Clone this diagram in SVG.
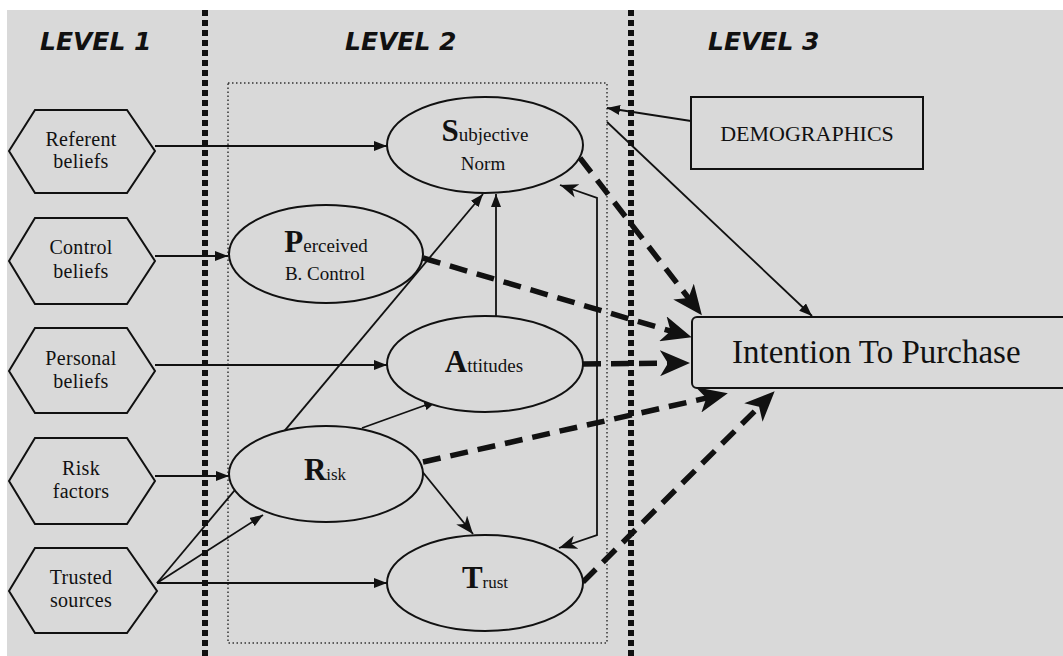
<svg xmlns="http://www.w3.org/2000/svg" width="1063" height="656" viewBox="0 0 1063 656">
<style>
.lvl{font-family:"DejaVu Sans",Verdana,sans-serif;font-weight:bold;font-style:italic;font-size:25px;fill:#111}
.hex{fill:#d9d9d9;stroke:#111;stroke-width:2}
.ht{font-family:"Liberation Serif","Times New Roman",serif;font-size:20px;letter-spacing:0.3px;fill:#111;text-anchor:middle}
.ell{fill:#d9d9d9;stroke:#111;stroke-width:2}
.et{font-family:"Liberation Serif","Times New Roman",serif;font-size:19px;fill:#111;text-anchor:middle}
.big{font-size:31px;font-weight:bold}
.sm{font-size:17px}
.thin{fill:none;stroke:#111;stroke-width:1.8}
.dash{fill:none;stroke:#111;stroke-width:5.5;stroke-dasharray:18 10}
.div{stroke:#111;stroke-width:6;stroke-dasharray:6 4}
</style>
<defs>
<marker id="tri" markerUnits="userSpaceOnUse" viewBox="0 0 13 10" refX="13" refY="5" markerWidth="13" markerHeight="10" orient="auto">
<path d="M0,0 L13,5 L0,10 z" fill="#111"/>
</marker>
<marker id="notch" markerUnits="userSpaceOnUse" viewBox="0 0 18 14" refX="18" refY="7" markerWidth="18" markerHeight="14" orient="auto-start-reverse">
<path d="M0,0 L18,7 L0,14 L5,7 z" fill="#111"/>
</marker>
<marker id="bigarrow" markerUnits="userSpaceOnUse" viewBox="0 0 30 26" refX="22" refY="13" markerWidth="30" markerHeight="26" orient="auto">
<path d="M0,0 L30,13 L0,26 L8,13 z" fill="#111"/>
</marker>
</defs>
<rect x="0" y="0" width="1063" height="656" fill="#ffffff"/>
<rect x="7" y="10" width="1056" height="646" fill="#d9d9d9"/>
<g id="dividers">
<line class="div" x1="205" y1="10" x2="205" y2="656"/>
<line class="div" x1="631" y1="10" x2="631" y2="656"/>
<rect x="228" y="83" width="379" height="560" fill="none" stroke="#333" stroke-width="1.5" stroke-dasharray="1.5 2.5"/>
</g>
<g id="levels">
<text class="lvl" x="40" y="50">LEVEL 1</text>
<text class="lvl" x="345" y="50">LEVEL 2</text>
<text class="lvl" x="708" y="50">LEVEL 3</text>
</g>
<g id="connectors">
<line class="thin" x1="155" y1="146" x2="387" y2="146" marker-end="url(#tri)"/>
<line class="thin" x1="155" y1="256" x2="228" y2="256" marker-end="url(#tri)"/>
<line class="thin" x1="155" y1="365" x2="387" y2="365" marker-end="url(#tri)"/>
<line class="thin" x1="155" y1="476" x2="229" y2="476" marker-end="url(#tri)"/>
<line class="thin" x1="157" y1="583" x2="387" y2="583" marker-end="url(#tri)"/>
<line class="thin" x1="157" y1="583" x2="263" y2="515" marker-end="url(#tri)"/>
<line class="thin" x1="157" y1="583" x2="483" y2="194" marker-end="url(#tri)"/>
<line class="thin" x1="496" y1="316" x2="496" y2="194" marker-end="url(#tri)"/>
<line class="thin" x1="362" y1="428" x2="437" y2="401" marker-end="url(#tri)"/>
<line class="thin" x1="421" y1="470" x2="473" y2="534" marker-end="url(#notch)"/>
<path class="thin" d="M560,185 L597,198 L597,535 L559,548" marker-start="url(#notch)" marker-end="url(#notch)"/>
<line class="thin" x1="691" y1="121" x2="607" y2="108" marker-end="url(#tri)"/>
<line class="thin" x1="607" y1="122" x2="812" y2="316" marker-end="url(#tri)"/>
<line class="dash" x1="580" y1="158" x2="697" y2="309" marker-end="url(#bigarrow)"/>
<line class="dash" x1="423" y1="258" x2="684" y2="335" marker-end="url(#bigarrow)"/>
<line class="dash" x1="583" y1="364" x2="682" y2="363" marker-end="url(#bigarrow)"/>
<line class="dash" x1="423" y1="462" x2="720" y2="395" marker-end="url(#bigarrow)"/>
<line class="dash" x1="583" y1="582" x2="769" y2="397" marker-end="url(#bigarrow)"/>
</g>
<g id="referent-beliefs">
<polygon class="hex" points="9,151 35,110 127,110 155,151 127,193 35,193"/>
<text class="ht" x="81" y="146">Referent</text>
<text class="ht" x="81" y="168">beliefs</text>
</g>
<g id="control-beliefs">
<polygon class="hex" points="9,261 35,218 127,218 155,261 127,304 35,304"/>
<text class="ht" x="81" y="254">Control</text>
<text class="ht" x="81" y="278">beliefs</text>
</g>
<g id="personal-beliefs">
<polygon class="hex" points="9,371 35,328 127,328 155,371 127,413 35,413"/>
<text class="ht" x="81" y="365">Personal</text>
<text class="ht" x="81" y="388">beliefs</text>
</g>
<g id="risk-factors">
<polygon class="hex" points="9,481 35,438 127,438 155,481 127,524 35,524"/>
<text class="ht" x="81" y="475">Risk</text>
<text class="ht" x="81" y="498">factors</text>
</g>
<g id="trusted-sources">
<polygon class="hex" points="9,591 35,548 127,548 157,591 127,633 35,633"/>
<text class="ht" x="81" y="584">Trusted</text>
<text class="ht" x="81" y="607">sources</text>
</g>
<g id="subjective-norm">
<ellipse class="ell" cx="485" cy="145" rx="98" ry="48"/>
<text class="et" x="485" y="141"><tspan class="big">S</tspan>ubjective</text>
<text class="et" x="483" y="170">Norm</text>
</g>
<g id="perceived-control">
<ellipse class="ell" cx="326" cy="254" rx="97" ry="49"/>
<text class="et" x="326" y="252"><tspan class="big">P</tspan>erceived</text>
<text class="et" x="325" y="280">B. Control</text>
</g>
<g id="attitudes">
<ellipse class="ell" cx="485" cy="364" rx="98" ry="48"/>
<text class="et" x="484" y="372"><tspan class="big">A</tspan>ttitudes</text>
</g>
<g id="risk">
<ellipse class="ell" cx="326" cy="474" rx="97" ry="48"/>
<text class="et sm" x="325" y="480"><tspan class="big">R</tspan>isk</text>
</g>
<g id="trust">
<ellipse class="ell" cx="485" cy="583" rx="98" ry="48"/>
<text class="et sm" x="485" y="588"><tspan class="big">T</tspan>rust</text>
</g>
<g id="demographics">
<rect x="691" y="97" width="232" height="72" fill="#d9d9d9" stroke="#111" stroke-width="2"/>
<text x="807" y="141" font-family="Liberation Serif, Times New Roman, serif" font-size="22" fill="#111" text-anchor="middle">DEMOGRAPHICS</text>
</g>
<g id="intention-to-purchase">
<rect x="692" y="317" width="390" height="71" rx="5" fill="#d9d9d9" stroke="#111" stroke-width="2"/>
<text x="732" y="363" font-family="Liberation Serif, Times New Roman, serif" font-size="33" fill="#111">Intention To Purchase</text>
</g>
</svg>
